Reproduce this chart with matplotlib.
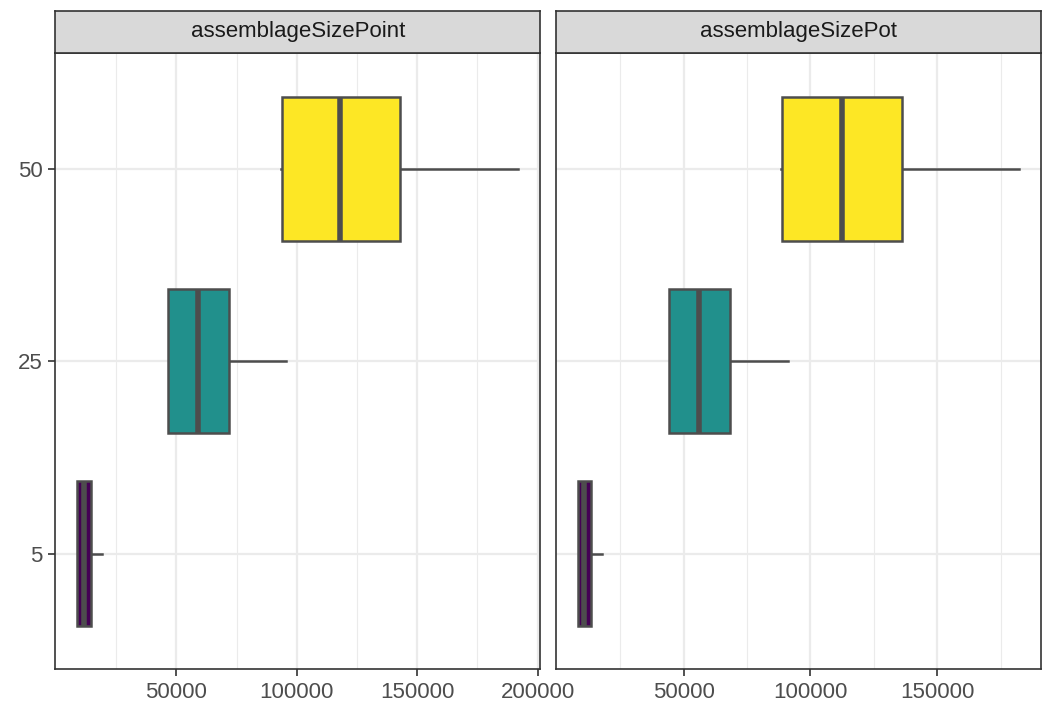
import matplotlib
matplotlib.use("Agg")
import matplotlib.pyplot as plt
from matplotlib.ticker import FixedLocator

plt.rcParams['font.family'] = ['Liberation Sans', 'DejaVu Sans']

# facet names and y categories
panels = ["assemblageSizePoint", "assemblageSizePot"]
sizes = ["5", "25", "50"]
fills = ["#440154", "#21908C", "#FDE725"]

# box stats (per panel, order 5, 25, 50)
point_whislo = [8870, 46500, 93300]
point_q1 = [8870, 46500, 94000]
point_med = [11600, 58900, 118100]
point_q3 = [14380, 71900, 142800]
point_whishi = [18940, 95600, 192000]

pot_whislo = [8400, 44100, 88500]
pot_q1 = [8400, 44100, 88870]
pot_med = [10840, 56100, 112430]
pot_q3 = [13700, 68200, 136000]
pot_whishi = [17900, 91200, 182200]

point_major = [50000, 100000, 150000, 200000]
point_minor = [25000, 75000, 125000, 175000]
pot_major = [50000, 100000, 150000]
pot_minor = [25000, 75000, 125000, 175000]

W, H = 1047, 704
fig = plt.figure(figsize=(W / 100, H / 100), dpi=100)


def px_axes(x0, x1, y0, y1):
    return fig.add_axes([x0 / W, 1 - y1 / H, (x1 - x0) / W, (y1 - y0) / H])


def draw_panel(ax, name, whislo, q1, med, q3, whishi, major, minor, show_y):
    stats = []
    for i in range(len(sizes)):
        stats.append(dict(whislo=whislo[i], q1=q1[i], med=med[i], q3=q3[i],
                          whishi=whishi[i], fliers=[]))
    res = ax.bxp(stats, positions=[1, 2, 3], widths=0.75, vert=False,
                 patch_artist=True, showcaps=False, showfliers=False,
                 boxprops=dict(edgecolor="#4D4D4D", linewidth=1.8),
                 whiskerprops=dict(color="#4D4D4D", linewidth=1.8),
                 medianprops=dict(color="#4D4D4D", linewidth=4,
                                  solid_capstyle="butt"))
    for patch, c in zip(res["boxes"], fills):
        patch.set_facecolor(c)
        patch.set_zorder(3)
    for m in res["medians"]:
        m.set_zorder(4)

    lo = min(whislo)
    hi = max(whishi)
    pad = (hi - lo) * 0.05
    ax.set_xlim(lo - pad, hi + pad)
    ax.set_ylim(0.4, 3.6)

    ax.xaxis.set_major_locator(FixedLocator(major))
    ax.xaxis.set_minor_locator(FixedLocator(minor))
    ax.set_xticklabels([str(v) for v in major])
    ax.set_yticks([1, 2, 3])
    ax.set_yticklabels(sizes if show_y else [])
    ax.grid(which="major", color="#EBEBEB", linewidth=1.6, zorder=0)
    ax.grid(which="minor", axis="x", color="#EBEBEB", linewidth=0.8, zorder=0)
    ax.set_axisbelow(True)
    ax.tick_params(which="major", length=5, width=1.2, color="#333333",
                   labelsize=16, labelcolor="#4D4D4D", pad=4)
    ax.tick_params(which="minor", length=0)
    if not show_y:
        ax.tick_params(axis="y", length=0)
    for s in ax.spines.values():
        s.set_color("#333333")
        s.set_linewidth(1.2)

    # facet strip
    pos = ax.get_position()
    strip = fig.add_axes([pos.x0, pos.y1, pos.width, (53.3 - 10.7) / H])
    strip.set_facecolor("#D9D9D9")
    strip.set_xticks([])
    strip.set_yticks([])
    for s in strip.spines.values():
        s.set_color("#333333")
        s.set_linewidth(1.2)
    strip.text(0.5, 0.5, name, ha="center", va="center", fontsize=16,
               color="#1A1A1A", transform=strip.transAxes)


ax1 = px_axes(55.3, 540.3, 53.3, 669)
ax2 = px_axes(556, 1041, 53.3, 669)
draw_panel(ax1, panels[0], point_whislo, point_q1, point_med, point_q3,
           point_whishi, point_major, point_minor, True)
draw_panel(ax2, panels[1], pot_whislo, pot_q1, pot_med, pot_q3,
           pot_whishi, pot_major, pot_minor, False)

fig.savefig("out.png", dpi=100)
